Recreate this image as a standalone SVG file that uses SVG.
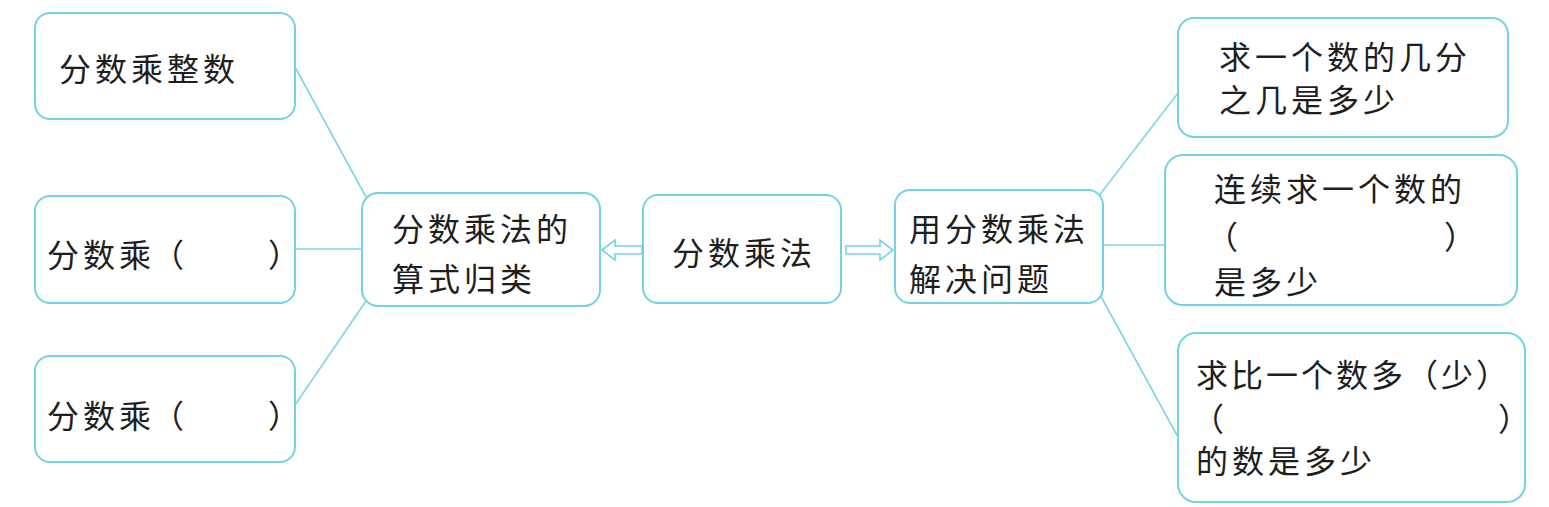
<svg xmlns="http://www.w3.org/2000/svg" width="1549" height="507" viewBox="0 0 1549 507">
<style>
.box{fill:#ffffff;stroke:#74d3e3;stroke-width:2}
.ln{stroke:#7dd6e6;stroke-width:1.6;fill:none}
.ar{fill:#ffffff;stroke:#74d3e3;stroke-width:1.6;stroke-linejoin:miter}
text{font-family:"Noto Sans CJK SC","Noto Sans CJK TC",sans-serif;font-size:32px;fill:#1e1e1e;letter-spacing:4px}
</style>
<rect width="1549" height="507" fill="#ffffff"/>
<g id="connectors">
<line class="ln" x1="295" y1="67" x2="366" y2="197"/>
<line class="ln" x1="295" y1="249" x2="362" y2="249"/>
<line class="ln" x1="295" y1="405" x2="366" y2="301"/>
<line class="ln" x1="1098" y1="197" x2="1178" y2="93"/>
<line class="ln" x1="1103" y1="245" x2="1165" y2="245"/>
<line class="ln" x1="1099" y1="293" x2="1178" y2="437"/>
<polygon class="ar" points="602,250 615,240 615,246 642,246 642,254 615,254 615,260"/>
<polygon class="ar" points="846,246 880,246 880,240 893,250 880,260 880,254 846,254"/>
</g>
<g id="n-zhengshu"><rect class="box" x="35" y="13" width="260" height="106" rx="15"/><text x="59" y="81">分数乘整数</text></g>
<g id="n-fen1"><rect class="box" x="35" y="196" width="260" height="107" rx="15"/><text x="47" y="267">分数乘<tspan x="152">（</tspan><tspan x="268">）</tspan></text></g>
<g id="n-fen2"><rect class="box" x="35" y="356" width="260" height="106" rx="15"/><text x="47" y="428">分数乘<tspan x="152">（</tspan><tspan x="268">）</tspan></text></g>
<g id="n-suanshi"><rect class="box" x="362" y="193" width="238" height="113" rx="16"/><text x="392" y="241">分数乘法的</text><text x="392" y="291">算式归类</text></g>
<g id="n-center"><rect class="box" x="643" y="195" width="198" height="108" rx="15"/><text x="672" y="265">分数乘法</text></g>
<g id="n-yong"><rect class="box" x="895" y="190" width="208" height="113" rx="15"/><text x="909" y="241">用分数乘法</text><text x="909" y="291">解决问题</text></g>
<g id="n-a"><rect class="box" x="1178" y="18" width="330" height="119" rx="16"/><text x="1219" y="69">求一个数的几分</text><text x="1219" y="112">之几是多少</text></g>
<g id="n-b"><rect class="box" x="1165" y="155" width="352" height="150" rx="18"/><text x="1214" y="201">连续求一个数的</text><text x="1206" y="249">（<tspan x="1444">）</tspan></text><text x="1214" y="294">是多少</text></g>
<g id="n-c"><rect class="box" x="1178" y="333" width="347" height="169" rx="18"/><text x="1196" y="387" style="letter-spacing:3px">求比一个数多（少）</text><text x="1192" y="431">（<tspan x="1498">）</tspan></text><text x="1196" y="473">的数是多少</text></g>
</svg>
